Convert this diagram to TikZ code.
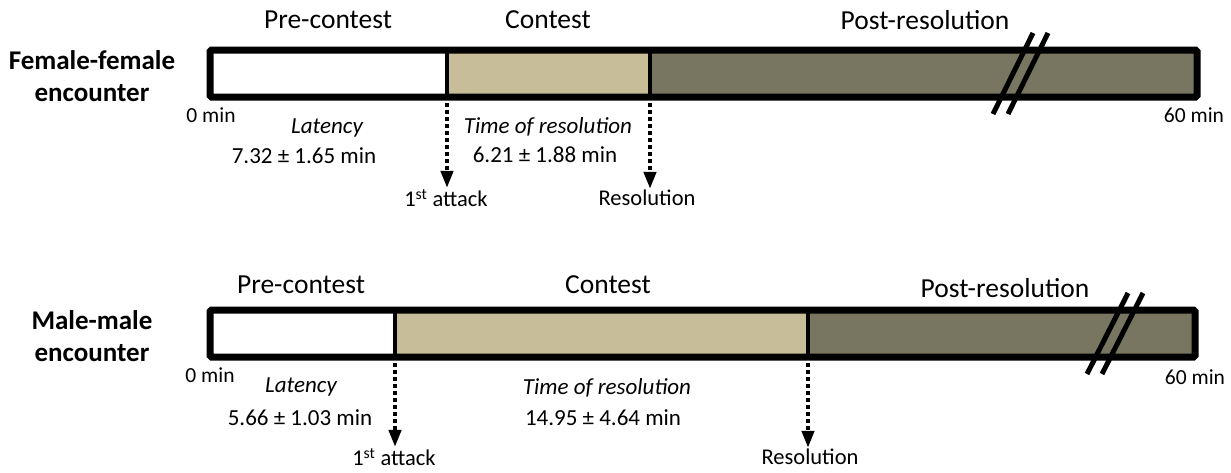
\documentclass[tikz,border=0pt]{standalone}
\usepackage{fontspec}
\setmainfont{Carlito}
\usetikzlibrary{arrows.meta}
\definecolor{contestcol}{RGB}{199,190,153}
\definecolor{postcol}{RGB}{120,117,96}
\tikzset{
  phase/.style={font=\fontsize{27.5}{32}\selectfont},
  who/.style={font=\bfseries\fontsize{27}{32}\selectfont, align=center},
  valtext/.style={font=\fontsize{23}{27}\selectfont},
  timetext/.style={font=\fontsize{21.5}{24}\selectfont},
  event/.style={font=\fontsize{22.5}{26}\selectfont, inner sep=1pt},
  eventarrow/.style={line width=4pt, dash pattern=on 4pt off 3pt, -{Triangle[width=12pt,length=17pt]}},
  breakmark/.style={line width=5pt},
  divider/.style={line width=4pt},
  barframe/.style={line width=7pt, rounded corners=1.5pt},
}
\begin{document}
\begin{tikzpicture}[x=1pt,y=-1pt]
  \useasboundingbox (0,0) rectangle (1231,472);

  % female-female
  \coordinate (fstart) at (210,50);
  \coordinate (fatk) at (447,50);
  \coordinate (fres) at (650,50);
  \coordinate (fend) at (1197,97);
  \fill[white] (fstart) rectangle (447,97);
  \fill[contestcol] (fatk) rectangle (650,97);
  \fill[postcol] (fres) rectangle (fend);
  \draw[divider] (fatk) -- (447,97);
  \draw[divider] (fres) -- (650,97);
  \draw[barframe] (fstart) rectangle (fend);
  \draw[breakmark] (993,114) -- (1033,33);
  \draw[breakmark] (1008,114) -- (1048,33);

  \node[who] (fwho) at (92,76) {Female-female\\encounter};
  \node[phase] (fpre) at (328,20) {Pre-contest};
  \node[phase] (fcon) at (548,20) {Contest};
  \node[phase] (fpost) at (925,20) {Post-resolution};
  \node[timetext] (fzero) at (211,115) {0 min};
  \node[timetext] (fsixty) at (1194,115) {60 min};
  \node[valtext] (flat) at (327,128) {\itshape Latency};
  \node[valtext] (flatval) at (304,156) {7.32 ± 1.65 min};
  \node[valtext] (ftor) at (548,127) {\itshape Time of resolution};
  \node[valtext] (ftorval) at (545,155) {6.21 ± 1.88 min};
  \node[event] (fatklbl) at (446,198) {1\textsuperscript{st} attack};
  \node[event] (freslbl) at (647,198) {Resolution};
  \draw[eventarrow] (447,103) -- (fatklbl.north -| fatk);
  \draw[eventarrow] (650,103) -- (freslbl.north -| fres);

  % male-male
  \coordinate (mstart) at (210,310);
  \coordinate (matk) at (395,310);
  \coordinate (mres) at (808,310);
  \coordinate (mend) at (1195,357);
  \fill[white] (mstart) rectangle (395,357);
  \fill[contestcol] (matk) rectangle (808,357);
  \fill[postcol] (mres) rectangle (mend);
  \draw[divider] (matk) -- (395,357);
  \draw[divider] (mres) -- (808,357);
  \draw[barframe] (mstart) rectangle (mend);
  \draw[breakmark] (1087,374) -- (1128,293);
  \draw[breakmark] (1102,374) -- (1143,293);

  \node[who] (mwho) at (92,336) {Male-male\\encounter};
  \node[phase] (mpre) at (301,285) {Pre-contest};
  \node[phase] (mcon) at (608,285) {Contest};
  \node[phase] (mpost) at (1005,288) {Post-resolution};
  \node[timetext] (mzero) at (210,375) {0 min};
  \node[timetext] (msixty) at (1195,377) {60 min};
  \node[valtext] (mlat) at (301,387) {\itshape Latency};
  \node[valtext] (mlatval) at (300,418) {5.66 ± 1.03 min};
  \node[valtext] (mtor) at (607,388) {\itshape Time of resolution};
  \node[valtext] (mtorval) at (603,418) {14.95 ± 4.64 min};
  \node[event] (matklbl) at (394,457) {1\textsuperscript{st} attack};
  \node[event] (mreslbl) at (810,457) {Resolution};
  \draw[eventarrow] (395,363) -- (matklbl.north -| matk);
  \draw[eventarrow] (808,363) -- (mreslbl.north -| mres);
\end{tikzpicture}
\end{document}
